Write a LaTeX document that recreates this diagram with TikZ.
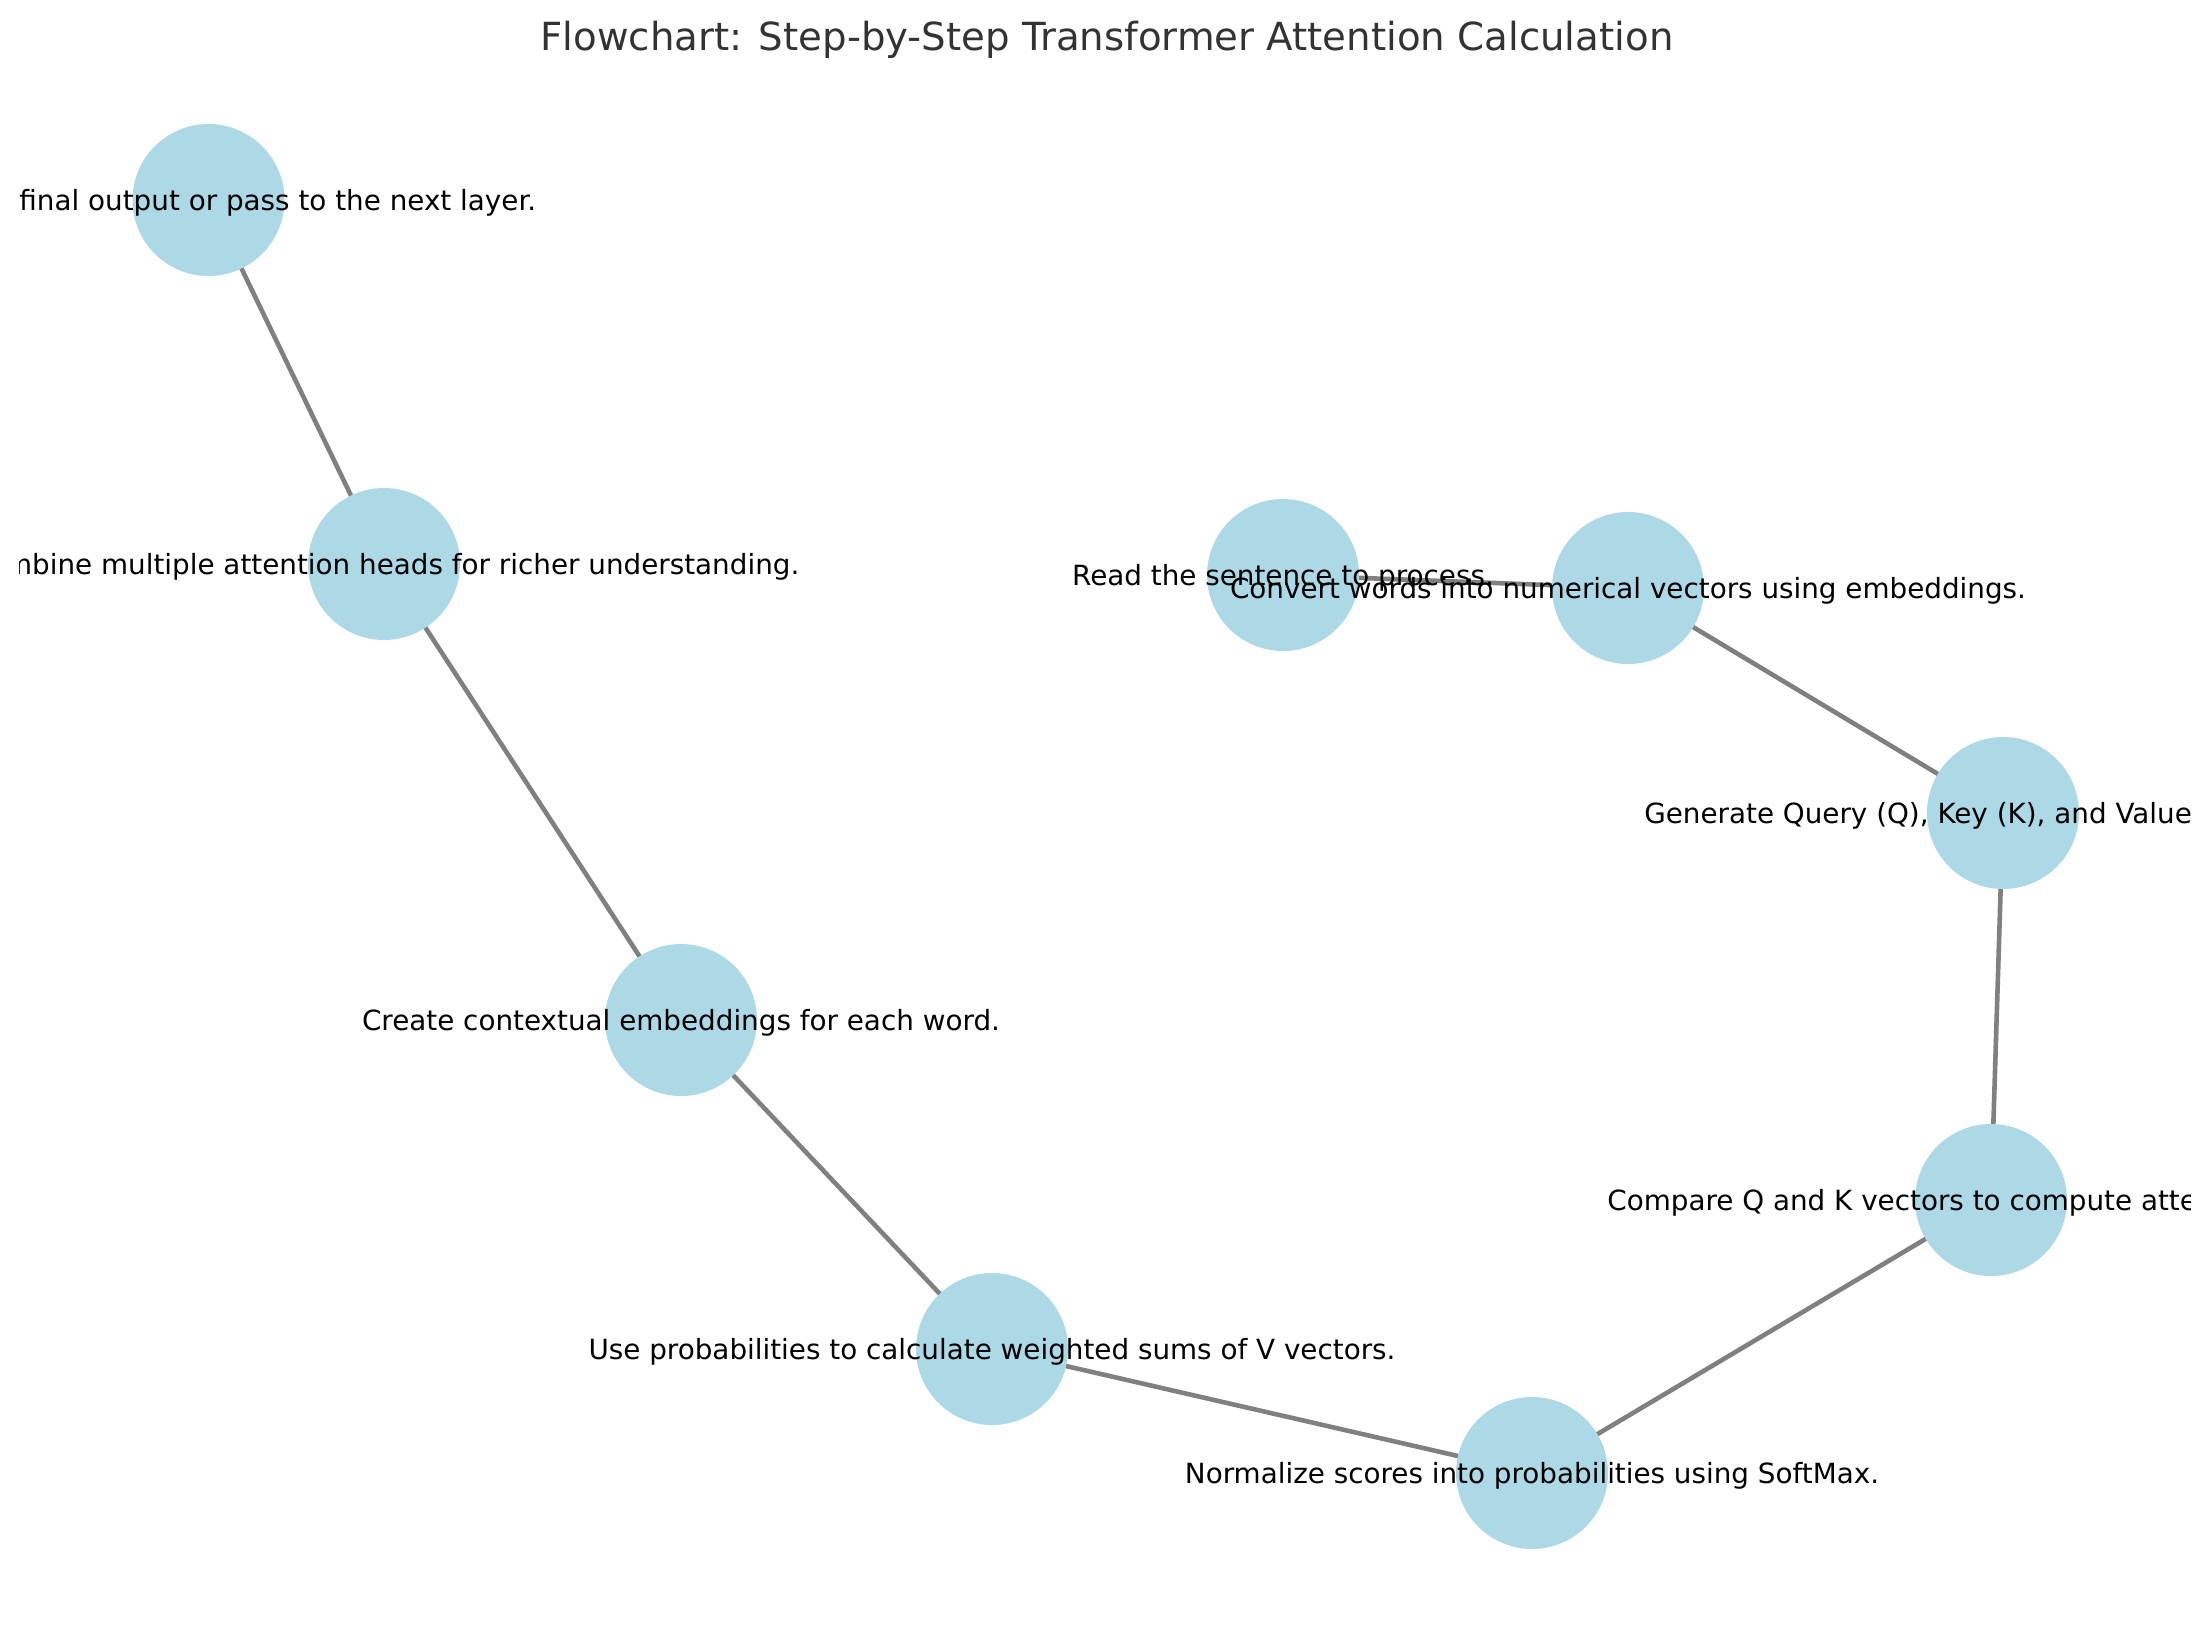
\documentclass[tikz,border=0pt]{standalone}
\usepackage{fontspec}
\setmainfont{DejaVu Sans}
\usetikzlibrary{backgrounds}
\definecolor{nodeblue}{HTML}{ADD8E6}
\definecolor{edgegray}{HTML}{808080}
\definecolor{titlegray}{HTML}{333333}
\begin{document}
\begin{tikzpicture}[x=1pt,y=-1pt,
  stepnode/.style={circle,fill=nodeblue,minimum size=152pt,inner sep=0pt},
  link/.style={draw=edgegray,line width=4.6pt},
  lbl/.style={font=\fontsize{27.8}{33}\selectfont,inner sep=0pt,anchor=base,text=black},
  ttl/.style={font=\fontsize{38.7}{46}\selectfont,inner sep=0pt,anchor=base,text=titlegray}]
\useasboundingbox (0,0) rectangle (2210,1626);
% nodes
\node[stepnode] (final) at (208.5,200) {};
\node[stepnode] (combine) at (384,564) {};
\node[stepnode] (create) at (681,1020) {};
\node[stepnode] (use) at (992,1349) {};
\node[stepnode] (normalize) at (1532,1473) {};
\node[stepnode] (compare) at (1991,1200) {};
\node[stepnode] (generate) at (2003,813) {};
\node[stepnode] (read) at (1283,575) {};
\node[stepnode] (convert) at (1628,588) {};
% edges
\begin{scope}[on background layer]
\draw[link] (read.center) -- (convert.center);
\draw[link] (convert.center) -- (generate.center);
\draw[link] (generate.center) -- (compare.center);
\draw[link] (compare.center) -- (normalize.center);
\draw[link] (normalize.center) -- (use.center);
\draw[link] (use.center) -- (create.center);
\draw[link] (create.center) -- (combine.center);
\draw[link] (combine.center) -- (final.center);
\end{scope}
% labels (clipped to the plot area)
\begin{scope}
\clip (19,0) rectangle (2190,1626);
\node[lbl] (lfinal) at (208.5,210) {Generate final output or pass to the next layer.};
\node[lbl] (lcombine) at (384,574) {Combine multiple attention heads for richer understanding.};
\node[lbl] (lcreate) at (681,1030) {Create contextual embeddings for each word.};
\node[lbl] (luse) at (992,1359) {Use probabilities to calculate weighted sums of V vectors.};
\node[lbl] (lnormalize) at (1532,1483) {Normalize scores into probabilities using SoftMax.};
\node[lbl] (lcompare) at (1991,1210) {Compare Q and K vectors to compute attention scores.};
\node[lbl] (lgenerate) at (2003,823) {Generate Query (Q), Key (K), and Value (V) vectors.};
\node[lbl] (lread) at (1283,585) {Read the sentence to process.};
\node[lbl] (lconvert) at (1628,598) {Convert words into numerical vectors using embeddings.};
\end{scope}
% title
\node[ttl] (title) at (1107,50) {Flowchart: Step-by-Step Transformer Attention Calculation};
\end{tikzpicture}
\end{document}
